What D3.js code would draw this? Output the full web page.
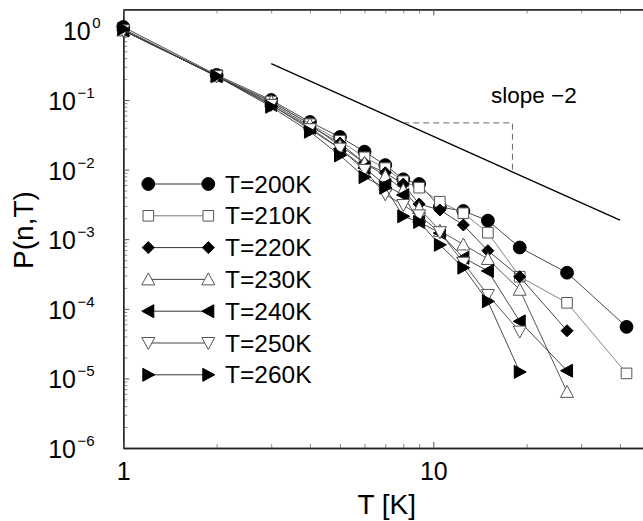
<!DOCTYPE html>
<html>
<head>
<meta charset="utf-8">
<script src="https://cdn.jsdelivr.net/npm/d3@7"></script>
<style>
  html, body { margin: 0; padding: 0; background: #fff; }
  svg, svg text { font-family: "Liberation Sans", Arial, Helvetica, sans-serif; }
  svg { display: block; }
</style>
</head>
<body>
<svg id="chart" width="643" height="521"></svg>
<script>
// ---------------- data ----------------
const sizes = [1, 2, 3, 4, 5, 6, 7, 8, 9, 10.5, 12.5, 15, 19, 27, 42];
const p200 = [1.12, 0.229, 0.100, 0.0483, 0.0294, 0.0181, 0.0116, 0.00726, 0.00621, 0.0029, 0.00254, 0.00185, 0.00076, 0.00033, 0.000055];
const p210 = [1.0, 0.22, 0.095, 0.045, 0.026, 0.015, 0.0105, 0.0068, 0.0055, 0.00346, 0.00236, 0.00124, 0.000289, 0.000122, 0.0000118];
const p220 = [1.0, 0.22, 0.09, 0.042, 0.024, 0.0124, 0.0090, 0.0062, 0.0032, 0.00263, 0.0016, 0.000684, 0.000289, 0.0000484];
const p230 = [1.0, 0.22, 0.095, 0.045, 0.022, 0.0125, 0.0081, 0.0051, 0.0028, 0.00132, 0.00084, 0.00052, 0.000188, 0.0000064];
const p240 = [1.0, 0.22, 0.085, 0.04, 0.02, 0.0106, 0.006, 0.0043, 0.00177, 0.00123, 0.00054, 0.00035, 0.000066, 0.0000129];
const p250 = [1.0, 0.22, 0.085, 0.038, 0.02, 0.0099, 0.0044, 0.0031, 0.0022, 0.00126, 0.00046, 0.000158, 0.000047];
const p260 = [1.05, 0.22, 0.08, 0.035, 0.016, 0.0078, 0.0055, 0.00213, 0.00177, 0.00083, 0.00039, 0.000128, 0.0000124];
const seriesLabels = ["T=200K", "T=210K", "T=220K", "T=230K", "T=240K", "T=250K", "T=260K"];
const seriesValues = [p200, p210, p220, p230, p240, p250, p260];
const markerTypes = ["circle", "square", "diamond", "triUp", "triLeft", "triDown", "triRight"];
const markerFilled = [true, false, true, false, true, false, true];
const xMajorTicks = [1, 10];
const xMinorTicks = [2, 3, 4, 5, 6, 7, 8, 9, 20, 30, 40];
const yExponents = [0, -1, -2, -3, -4, -5, -6];
const slopeRange = [3, 40];
const slopePrefactor = 3;
const slopeBox = [8, 18];
const xTitle = "T [K]";
const yTitle = "P(n,T)";
const slopeText = "slope \u22122";

// ---------------- layout ----------------
const FONT = '"Liberation Sans", Arial, Helvetica, sans-serif';
const svg = d3.select("#chart");
const x = d3.scaleLog().domain([1, 50]).range([123.3, 650]);
const y = d3.scaleLog().domain([1e-6, 2]).range([448, 9.45]);

svg.append("rect").attr("width", 643).attr("height", 521).attr("fill", "#fff");

const yMinor = [];
for (let e = -6; e < 1; e++) for (let k = 2; k <= 9; k++) { const v = k * Math.pow(10, e); if (v < 2) yMinor.push(v); }

const axisColor = "#222";
function styleAxis(g, tickColor) {
  g.attr("font-family", FONT);
  g.select(".domain").attr("stroke", axisColor).attr("stroke-width", 1.3);
  g.selectAll(".tick line").attr("stroke", tickColor).attr("stroke-width", 1);
  g.selectAll(".tick text").remove();
}

// left axis
const gyMin = svg.append("g").attr("transform", `translate(${x(1)},0)`)
  .call(d3.axisLeft(y).tickValues(yMinor).tickSize(-4).tickSizeOuter(0).tickFormat(""));
styleAxis(gyMin, "#888");
const gy = svg.append("g").attr("transform", `translate(${x(1)},0)`)
  .call(d3.axisLeft(y).tickValues(yExponents.map(e => Math.pow(10, e))).tickSize(-6).tickSizeOuter(0).tickFormat(""));
styleAxis(gy, "#555");
gy.selectAll(".tick").each(function(d) {
  const e = Math.round(Math.log10(d));
  const g = d3.select(this);
  const baseEnd = e === 0 ? -32.6 : -47.3;
  g.append("text")
    .attr("x", baseEnd).attr("y", 9.5)
    .attr("text-anchor", "end").attr("fill", "#000")
    .attr("font-family", FONT).attr("font-size", 25)
    .text("10");
  g.append("text")
    .attr("x", baseEnd + 1.5).attr("y", -2.5)
    .attr("text-anchor", "start").attr("fill", "#000")
    .attr("font-family", FONT).attr("font-size", 15)
    .text(e === 0 ? "0" : "\u2212" + Math.abs(e));
});

// bottom axis
const gxMin = svg.append("g").attr("transform", `translate(0,${y(1e-6)})`)
  .call(d3.axisBottom(x).tickValues(xMinorTicks).tickSize(-4).tickSizeOuter(0).tickFormat(""));
styleAxis(gxMin, "#888");
const gx = svg.append("g").attr("transform", `translate(0,${y(1e-6)})`)
  .call(d3.axisBottom(x).tickValues(xMajorTicks).tickSize(-6).tickSizeOuter(0).tickFormat(""));
styleAxis(gx, "#555");
gx.selectAll(".tick").append("text")
  .attr("y", 32).attr("text-anchor", "middle").attr("fill", "#000")
  .attr("font-family", FONT).attr("font-size", 25)
  .text(d => d3.format("d")(d));

// top axis
const gtMin = svg.append("g").attr("transform", `translate(0,${y(2)})`)
  .call(d3.axisTop(x).tickValues(xMinorTicks).tickSize(-4).tickSizeOuter(0).tickFormat(""));
styleAxis(gtMin, "#888");
const gt = svg.append("g").attr("transform", `translate(0,${y(2)})`)
  .call(d3.axisTop(x).tickValues(xMajorTicks).tickSize(-6).tickSizeOuter(0).tickFormat(""));
styleAxis(gt, "#555");

// axis titles
svg.append("text").attr("x", 386.7).attr("y", 514).attr("text-anchor", "middle")
  .attr("font-family", FONT).attr("font-size", 28).attr("fill", "#000").text(xTitle);
svg.append("text").attr("transform", "translate(33,230) rotate(-90)").attr("text-anchor", "middle")
  .attr("font-family", FONT).attr("font-size", 28).attr("fill", "#000").text(yTitle);

// slope guide
const slopeF = n => slopePrefactor / (n * n);
svg.append("line")
  .attr("x1", x(slopeRange[0])).attr("y1", y(slopeF(slopeRange[0])))
  .attr("x2", x(slopeRange[1])).attr("y2", y(slopeF(slopeRange[1])))
  .attr("stroke", "#000").attr("stroke-width", 1.3);
svg.append("path")
  .attr("d", `M${x(slopeBox[0])},${y(slopeF(slopeBox[0]))}H${x(slopeBox[1])}V${y(slopeF(slopeBox[1]))}`)
  .attr("fill", "none").attr("stroke", "#666").attr("stroke-width", 1).attr("stroke-dasharray", "6,4");
svg.append("text").attr("x", 491).attr("y", 103)
  .attr("font-family", FONT).attr("font-size", 22.5).attr("fill", "#000").text(slopeText);

// markers
function markerPath(type) {
  const s = 6.5;
  switch (type) {
    case "square": return `M${-5.3},${-5.3}h10.6v10.6h-10.6Z`;
    case "diamond": return `M0,${-6}L${6},0L0,${6}L${-6},0Z`;
    case "triUp": return `M0,${-s}L${s},${5.5}L${-s},${5.5}Z`;
    case "triDown": return `M0,${s}L${s},${-5.5}L${-s},${-5.5}Z`;
    case "triLeft": return `M${-s},0L${5.5},${-s}L${5.5},${s}Z`;
    case "triRight": return `M${s},0L${-5.5},${-s}L${-5.5},${s}Z`;
  }
  return null;
}
function drawMarker(g, type, filled, cx, cy) {
  const fill = filled ? "#000" : "#fff";
  const stroke = filled ? "#000" : "#555";
  if (type === "circle") {
    g.append("circle").attr("cx", cx).attr("cy", cy).attr("r", 6.4).attr("fill", fill).attr("stroke", stroke).attr("stroke-width", 1);
  } else {
    g.append("path").attr("transform", `translate(${cx},${cy})`).attr("d", markerPath(type))
      .attr("fill", fill).attr("stroke", stroke).attr("stroke-width", 1);
  }
}

const lineColors = ["#333", "#777", "#333", "#444", "#333", "#444", "#333"];
const line = d3.line().x(d => x(d[0])).y(d => y(d[1]));

seriesValues.forEach((vals, i) => {
  const pts = vals.map((v, j) => [sizes[j], v]);
  const g = svg.append("g");
  g.append("path").datum(pts).attr("d", line).attr("fill", "none")
    .attr("stroke", lineColors[i]).attr("stroke-width", 0.9);
  pts.forEach(p => drawMarker(g, markerTypes[i], markerFilled[i], x(p[0]), y(p[1])));
});

// legend
const legY0 = 184, legDy = 31.8;
seriesLabels.forEach((lab, i) => {
  const g = svg.append("g");
  const ly = legY0 + i * legDy;
  g.append("line").attr("x1", 148.3).attr("x2", 208.3).attr("y1", ly).attr("y2", ly)
    .attr("stroke", lineColors[i]).attr("stroke-width", 1);
  drawMarker(g, markerTypes[i], markerFilled[i], 148.3, ly);
  drawMarker(g, markerTypes[i], markerFilled[i], 208.3, ly);
  g.append("text").attr("x", 225).attr("y", ly + 8.5)
    .attr("font-family", FONT).attr("font-size", 24.5).attr("fill", "#000").text(lab);
});
</script>
</body>
</html>
